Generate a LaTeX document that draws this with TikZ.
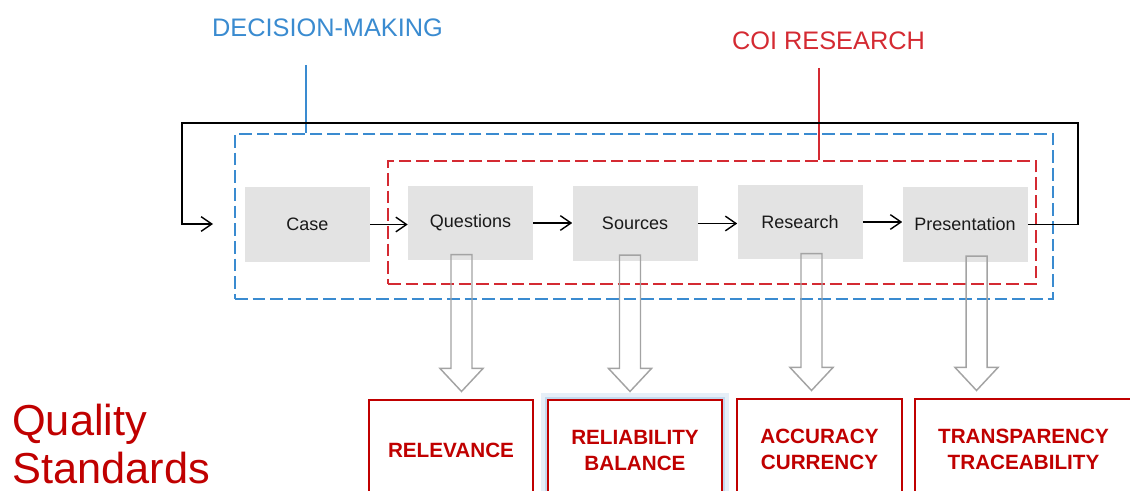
\documentclass[tikz,border=0pt]{standalone}
\usepackage{fontspec}
\setmainfont{Liberation Sans}
\usetikzlibrary{arrows.meta,calc}
\definecolor{dmblue}{HTML}{3A8BD0}
\definecolor{coired}{HTML}{D42A32}
\definecolor{qualred}{HTML}{C00000}
\definecolor{stagefill}{HTML}{E3E3E3}
\definecolor{hollow}{HTML}{A3A3A3}
\definecolor{glowin}{HTML}{C4D9EE}
\definecolor{glowout}{HTML}{E6EFF8}

\begin{document}
\begin{tikzpicture}[x=0.75pt, y=-0.75pt, font=\fontsize{13.5}{16}\selectfont,
  stagebox/.style={fill=stagefill, text=black!90, minimum width=93.75pt, minimum height=56pt, inner sep=0pt},
  dashframe/.style={dash pattern=on 9.5pt off 3.75pt, line width=1pt, inner sep=0pt},
  qbox/.style={draw=qualred, fill=white, line width=0.8pt, minimum height=75pt, inner sep=0pt,
    align=center, text=qualred, font=\fontsize{15.5}{19.5}\selectfont\bfseries},
  flow/.style={line width=1.05pt, -{Straight Barb[length=8pt,width=11pt]}}]
  \useasboundingbox (0,0) rectangle (1130,491);

  % the two scopes of the process
  \node[dashframe, draw=dmblue, minimum width=613.5pt, minimum height=123.75pt] (dmframe) at (644,216.5) {};
  \node[dashframe, draw=coired, minimum width=486pt, minimum height=92.25pt] (coiframe) at (712,222.5) {};
  \node[text=dmblue, font=\fontsize{19}{22}\selectfont] (dmlabel) at (327.5,28) {DECISION-MAKING};
  \node[text=coired, font=\fontsize{19}{22}\selectfont] (coilabel) at (828.5,41) {COI RESEARCH};
  \coordinate (dmtick) at (306,65);
  \coordinate (coitick) at (819,68);
  \draw[dmblue, line width=1pt] (dmtick) -- (dmtick |- dmframe.north);
  \draw[coired, line width=1pt] (coitick) -- (coitick |- coiframe.north);

  \foreach \x/\y/\name/\word in {307.5/224.5/case/Case, 470.5/223/ques/Questions,
      635/223.5/src/Sources, 800/222/res/Research, 965/224.5/pres/Presentation}
    \node[stagebox] (\name) at (\x,\y) {\word};

  \foreach \a/\b in {case/ques, ques/src, src/res, res/pres}
    \draw[flow] (\a.east) -- (\a.east -| \b.west);

  % feedback loop back to the case
  \coordinate (loopR) at (1078,123);
  \coordinate (loopL) at (182,123);
  \coordinate (loopend) at (213,224);
  \draw[flow] (pres.east) -| (loopR) -- (loopL) |- (loopend);

  \node[anchor=north west, align=left, inner sep=0pt, text=qualred,
    font=\fontsize{32.5}{35.5}\selectfont] (quality) at (12,404) {Quality\\Standards};

  \node[qbox, minimum width=123pt] (rel) at (451,450) {RELEVANCE};
  \node[qbox, minimum width=130.5pt, preaction={draw=glowout, line width=10pt},
    preaction={draw=glowin, line width=5pt}] (reb) at (635,450) {RELIABILITY\\BALANCE};
  \node[qbox, minimum width=123.75pt] (acc) at (819.5,449) {ACCURACY\\CURRENCY};
  \node[qbox, minimum width=162.75pt] (tra) at (1023.5,449) {TRANSPARENCY\\TRACEABILITY};

  \foreach \a/\b/\dx in {ques/rel/-9, src/reb/-5, res/acc/11.5, pres/tra/11.5} {
    \coordinate (top) at ($(\a.south)+(\dx,-6)$);
    \coordinate (tip) at ($(top |- \b.north)+(0,-8)$);
    \draw[hollow, line width=1.1pt, line join=miter]
      ($(top)+(-10.5,0)$) -- ($(tip)+(-10.5,-23)$) -- ($(tip)+(-21.5,-23)$) -- (tip)
      -- ($(tip)+(21.5,-23)$) -- ($(tip)+(10.5,-23)$) -- ($(top)+(10.5,0)$) -- cycle;
  }
\end{tikzpicture}
\end{document}
